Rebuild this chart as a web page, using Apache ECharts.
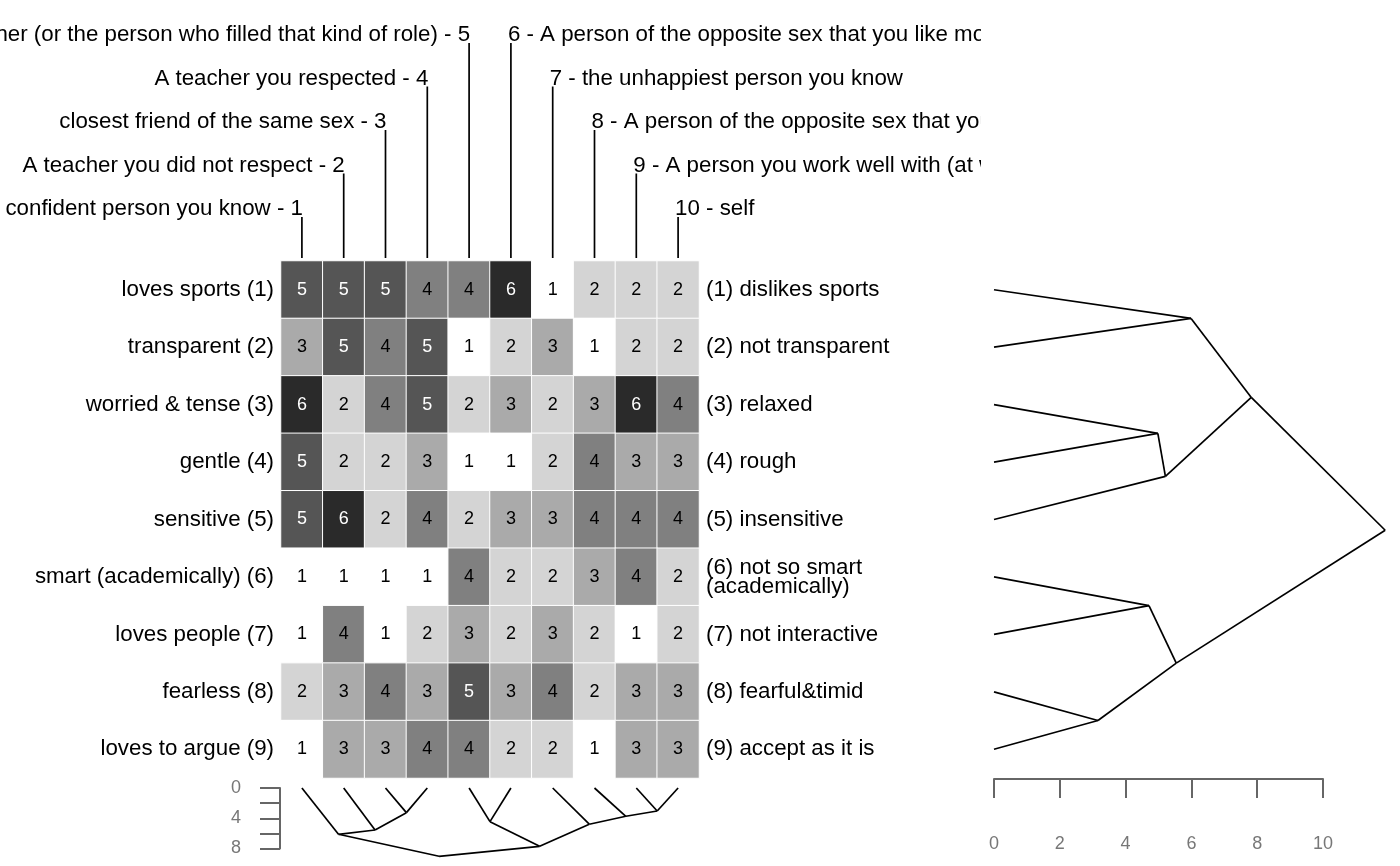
<!DOCTYPE html>
<html>
<head>
<meta charset="utf-8">
<script src="https://cdn.jsdelivr.net/npm/echarts@6/dist/echarts.min.js"></script>
<style>
  html, body { margin: 0; padding: 0; background: #fff; }
  #main { width: 1400px; height: 866px; }
</style>
</head>
<body>
<div id="main"></div>
<script>
// columns: the people rated
const colLabels = [
  'The most confident person you know - 1',
  'A teacher you did not respect - 2',
  'closest friend of the same sex - 3',
  'A teacher you respected - 4',
  'Your father (or the person who filled that kind of role) - 5',
  '6 - A person of the opposite sex that you like most',
  '7 - the unhappiest person you know',
  '8 - A person of the opposite sex that you dislike',
  '9 - A person you work well with (at work)',
  '10 - self'
]
// rows: the constructs, left and right poles
const rowLeft = [
  'loves sports (1)', 'transparent (2)', 'worried & tense (3)', 'gentle (4)',
  'sensitive (5)', 'smart (academically) (6)', 'loves people (7)', 'fearless (8)',
  'loves to argue (9)'
]
const rowRight = [
  '(1) dislikes sports', '(2) not transparent', '(3) relaxed', '(4) rough',
  '(5) insensitive', '(6) not so smart\n(academically)', '(7) not interactive',
  '(8) fearful&timid', '(9) accept as it is'
]
const scores = [
  [5, 5, 5, 4, 4, 6, 1, 2, 2, 2],
  [3, 5, 4, 5, 1, 2, 3, 1, 2, 2],
  [6, 2, 4, 5, 2, 3, 2, 3, 6, 4],
  [5, 2, 2, 3, 1, 1, 2, 4, 3, 3],
  [5, 6, 2, 4, 2, 3, 3, 4, 4, 4],
  [1, 1, 1, 1, 4, 2, 2, 3, 4, 2],
  [1, 4, 1, 2, 3, 2, 3, 2, 1, 2],
  [2, 3, 4, 3, 5, 3, 4, 2, 3, 3],
  [1, 3, 3, 4, 4, 2, 2, 1, 3, 3]
]
// cluster merges (hclust style: negative = leaf, positive = earlier step)
const rowMerge = [[-8, -9], [-6, -7], [-3, -4], [-5, 3], [2, 1], [-1, -2], [6, 4], [7, 5]]
const rowHeights = [3.16, 4.71, 4.98, 5.21, 5.54, 5.99, 7.82, 11.89]
const colMerge = [[-9, -10], [-3, -4], [-8, 1], [-5, -6], [-7, 3], [-2, 2], [-1, 6], [4, 5], [7, 8]]
const colHeights = [3.04, 3.26, 3.74, 4.45, 4.79, 5.55, 6.12, 7.71, 9.03]
// axis ticks
const rowDistTicks = [0, 2, 4, 6, 8, 10]
const colDistTicks = [0, 2, 4, 6, 8]
const colDistShown = [0, 4, 8]

const grays = ['#ffffff', '#d4d4d4', '#aaaaaa', '#808080', '#555555', '#2a2a2a']
const font = 'Liberation Sans'
const labelSize = 22.3

//把合并记录转成线段
const dendroSegments = (merge, heights, horizontal) => {
  const pos = []
  const segs = []
  const node = k => k < 0 ? { p: -k - 1, h: 0 } : { p: pos[k - 1], h: heights[k - 1] }
  merge.forEach(([a, b], i) => {
    const A = node(a), B = node(b)
    const p = (A.p + B.p) / 2
    const h = heights[i]
    pos.push(p)
    ;[A, B].forEach(c => {
      segs.push({ coords: horizontal ? [[c.h, c.p], [h, p]] : [[c.p, c.h], [p, h]] })
    })
  })
  return segs
}

const cells = scores.flatMap((row, r) =>
  row.map((v, c) => ({ value: [c, r, v], label: { color: v >= 5 ? '#fff' : '#000' } }))
)

const axisGray = { color: '#666', width: 2 }

const chart = echarts.init(document.getElementById('main'))
const option = {
  animation: false,
  textStyle: { fontFamily: font },
  grid: [
    { left: 281, top: 261, width: 418, height: 517 },
    { left: 994, top: 261, width: 329, height: 517 },
    { left: 281, top: 788, width: 418, height: 60.5 }
  ],
  xAxis: [
    { type: 'category', gridIndex: 0, data: colLabels.map((_, i) => i), show: false },
    {
      type: 'value', gridIndex: 1, min: rowDistTicks[0], max: rowDistTicks[rowDistTicks.length - 1],
      interval: rowDistTicks[1] - rowDistTicks[0], position: 'bottom', offset: 1,
      axisLine: { show: true, onZero: false, lineStyle: axisGray },
      axisTick: { show: true, length: 19, lineStyle: axisGray },
      axisLabel: { margin: 56, fontSize: 18, color: '#777', fontFamily: font },
      splitLine: { show: false }
    },
    { type: 'value', gridIndex: 2, min: -0.5, max: 9.5, show: false, splitLine: { show: false } }
  ],
  yAxis: [
    {
      type: 'category', gridIndex: 0, data: rowLeft, inverse: true,
      axisLine: { show: false }, axisTick: { show: false }, splitLine: { show: false },
      axisLabel: { interval: 0, fontSize: labelSize, color: '#000', margin: 7, fontFamily: font }
    },
    {
      type: 'category', gridIndex: 0, data: rowRight, inverse: true, position: 'right',
      axisLine: { show: false }, axisTick: { show: false }, splitLine: { show: false },
      axisLabel: { interval: 0, fontSize: labelSize, color: '#000', margin: 7, lineHeight: 19, fontFamily: font }
    },
    { type: 'value', gridIndex: 1, min: -0.5, max: 8.5, inverse: true, show: false, splitLine: { show: false } },
    {
      type: 'value', gridIndex: 2, min: colDistTicks[0], max: colDistTicks[colDistTicks.length - 1],
      interval: colDistTicks[1] - colDistTicks[0], inverse: true, position: 'left', offset: 1,
      axisLine: { show: true, onZero: false, lineStyle: axisGray },
      axisTick: { show: true, length: 20, lineStyle: axisGray },
      axisLabel: {
        margin: 39, fontSize: 18, color: '#777', fontFamily: font,
        formatter: v => colDistShown.includes(v) ? String(v) : ''
      },
      splitLine: { show: false }
    }
  ],
  visualMap: {
    type: 'piecewise', show: false, dimension: 2, seriesIndex: 0,
    pieces: grays.map((g, i) => ({ value: i + 1, color: g }))
  },
  series: [
    {
      type: 'heatmap', xAxisIndex: 0, yAxisIndex: 0, data: cells,
      itemStyle: { borderColor: '#fff', borderWidth: 1 },
      label: { show: true, fontSize: 18, fontFamily: font },
      emphasis: { disabled: true }
    },
    {
      // 顶部列标签和引线
      type: 'custom', xAxisIndex: 0, yAxisIndex: 0, silent: true,
      data: colLabels.map((_, i) => [i, 0]),
      renderItem: (params, api) => {
        const c = api.value(0)
        const [x, yc] = api.coord([c, 0])
        const top = yc - api.size([0, 1])[1] / 2
        const onLeft = c < 5
        const level = onLeft ? c : 9 - c
        const ty = top - 52 - level * 43.5
        return {
          type: 'group',
          children: [
            { type: 'line', shape: { x1: x, y1: ty + 8, x2: x, y2: top - 3 }, style: { stroke: '#000', lineWidth: 1.7 } },
            {
              type: 'text',
              style: {
                text: colLabels[c], x: onLeft ? x + 1 : x - 3, y: ty,
                align: onLeft ? 'right' : 'left', verticalAlign: 'middle',
                font: labelSize + 'px "Liberation Sans"', fill: '#000'
              }
            }
          ]
        }
      }
    },
    {
      type: 'lines', coordinateSystem: 'cartesian2d', xAxisIndex: 1, yAxisIndex: 2,
      data: dendroSegments(rowMerge, rowHeights, true), clip: false, silent: true,
      lineStyle: { color: '#000', width: 1.7, opacity: 1 }
    },
    {
      type: 'lines', coordinateSystem: 'cartesian2d', xAxisIndex: 2, yAxisIndex: 3,
      data: dendroSegments(colMerge, colHeights, false), clip: false, silent: true,
      lineStyle: { color: '#000', width: 1.7, opacity: 1 }
    }
  ],
  graphic: [
    // cut the long top labels like the original plot area does
    { type: 'rect', left: 981, top: 0, z: 100, shape: { width: 419, height: 240 }, style: { fill: '#fff' } }
  ]
}
chart.setOption(option)
</script>
</body>
</html>
